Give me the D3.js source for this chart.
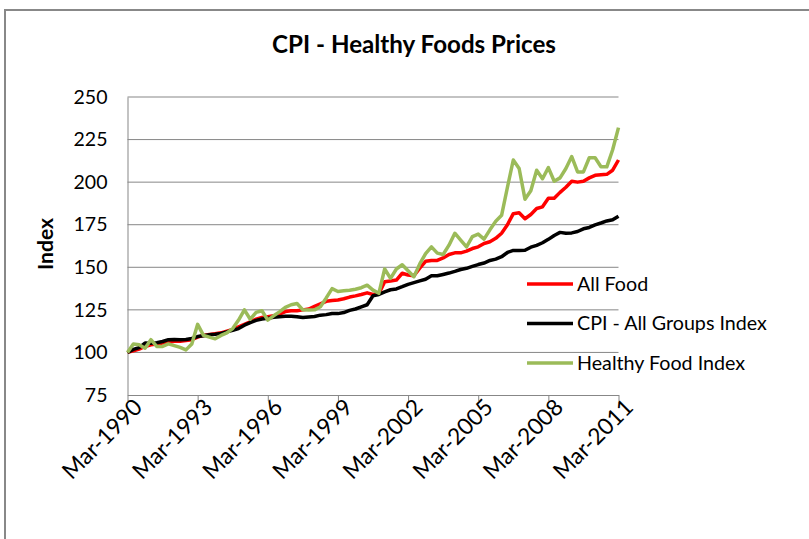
<!DOCTYPE html>
<html>
<head>
<meta charset="utf-8">
<script src="https://cdn.jsdelivr.net/npm/d3@7"></script>
<style>
  body { margin: 0; background: #fff; }
  text { font-family: Lato, 'Open Sans', sans-serif; fill: #000; }
</style>
</head>
<body>
<svg id="chart" width="809" height="539"></svg>
<script>
// quarterly categories, Mar-1990 .. Mar-2011
const months = ['Mar', 'Jun', 'Sep', 'Dec'];
const years = d3.range(1990, 2012);
const quarters = [];
years.forEach(y => months.forEach(m => {
  if (y < 2011 || m === 'Mar') quarters.push(`${m}-${y}`);
}));

const tickLabels = ['Mar-1990', 'Mar-1993', 'Mar-1996', 'Mar-1999', 'Mar-2002', 'Mar-2005', 'Mar-2008', 'Mar-2011'];
const yTicks = [75, 100, 125, 150, 175, 200, 225, 250];

const allFood = [
  100, 101, 102, 103.5, 104.5, 105, 105.5, 106, 106.5, 106.5, 107, 107.5,
  109, 110, 110.5, 111, 111.5, 112.5, 113.5, 115, 116.5, 118, 119.5, 120.5,
  121, 121.5, 122.5, 124, 124.5, 124.5, 125, 125.5, 127, 128.5, 130, 130.5,
  130.8, 131.5, 132.5, 133.2, 134, 135, 134, 134.5, 141.5, 142, 142.5, 146.5,
  145.5, 145, 149.5, 153.5, 154, 154, 155.5, 157.5, 158.5, 158.5, 159.5, 161,
  162, 164, 165, 167, 170, 175, 181.5, 182, 178.5, 181, 184.5, 185.5,
  190.5, 190.5, 194, 197, 200.5, 200, 200.5, 202.5, 204, 204.3, 204.6, 207,
  213
];

const cpiAllGroups = [
  100, 101.8, 102.8, 105.5, 105.4, 105.7, 106.4, 107.5, 107.6, 107.4, 107.6, 108.2,
  109.3, 109.8, 110.4, 110.7, 111.2, 112.1, 113, 114, 116, 117.5, 118.8, 119.6,
  120, 120.7, 121, 121.2, 121.3, 121, 120.5, 120.8, 121.1, 121.9, 122.2, 122.9,
  122.8, 123.4, 124.7, 125.5, 126.8, 128, 133.3, 134, 135.6, 136.8, 137.3, 138.6,
  140, 141, 142, 143, 145, 145, 145.8, 146.6, 147.6, 148.7, 149.4, 150.5,
  151.6, 152.5, 154, 154.8, 156.2, 158.7, 159.9, 159.9, 160, 161.8, 162.9, 164.4,
  166.4, 168.7, 170.5, 170, 170.2, 171, 172.6, 173.4, 174.9, 176, 177.2, 177.9,
  180
];

const healthyFood = [
  100, 105, 104.5, 102.5, 107.5, 103.5, 103.5, 105, 104, 103, 101.5, 105,
  116.5, 110, 109, 108, 110, 111.5, 114, 119, 125, 119.5, 123.5, 124.5,
  119, 121.5, 123.8, 126.5, 128, 128.7, 125, 124.9, 125, 126.8, 132, 137.5,
  135.8, 136.2, 136.5, 137.1, 138, 139.5, 136.6, 134.7, 149, 143.5, 149, 151.5,
  148, 144.5, 152, 158, 162, 158.3, 157.5, 163, 170, 166, 162, 168,
  169.5, 166.5, 172, 177, 180.5, 197, 213, 208, 190, 195, 207, 202,
  208.5, 200.5, 202.5, 208, 215, 206, 206, 214.3, 214.3, 209, 209, 219,
  232
];

const series = [
  { name: 'All Food', values: allFood, color: '#ff0000' },
  { name: 'CPI - All Groups Index', values: cpiAllGroups, color: '#000000' },
  { name: 'Healthy Food Index', values: healthyFood, color: '#9bbb59' }
];

const svg = d3.select('#chart');

// outer chart frame
svg.append('rect')
  .attr('x', 5).attr('y', 10)
  .attr('width', 830).attr('height', 560)
  .attr('fill', '#fff')
  .attr('stroke', '#888')
  .attr('stroke-width', 2);

const x = d3.scalePoint().domain(quarters).range([127.5, 618.5]);
const y = d3.scaleLinear().domain([75, 250]).range([395, 97]);

// scale a text's font size so it fills a given width
function fit(sel, width) {
  const w = sel.node().getComputedTextLength();
  const fs = parseFloat(sel.style('font-size'));
  sel.style('font-size', (fs * width / w) + 'px');
  return fs * width / w;
}

// gridlines
svg.append('g')
  .selectAll('line')
  .data(yTicks.filter(d => d > 75))
  .enter()
  .append('line')
  .attr('x1', x.range()[0]).attr('x2', x.range()[1])
  .attr('y1', d => y(d)).attr('y2', d => y(d))
  .attr('stroke', '#878787')
  .attr('stroke-width', 1);

// y axis
const yAxis = svg.append('g')
  .attr('transform', `translate(${x.range()[0]},0)`)
  .call(d3.axisLeft(y).tickValues(yTicks).tickSize(0).tickPadding(20));
yAxis.select('.domain').attr('stroke', '#878787');
yAxis.selectAll('text').attr('font-family', null).style('font-size', '20px').style('fill', '#000');
// fit on the "250" label
const axisFs = fit(yAxis.selectAll('text').filter(d => d === 250), 34);
yAxis.selectAll('text').style('font-size', axisFs + 'px');

// x axis
const xAxis = svg.append('g')
  .attr('transform', `translate(0,${y(75)})`)
  .call(d3.axisBottom(x).tickValues(tickLabels).tickSize(6).tickSizeOuter(0));
xAxis.select('.domain').attr('stroke', '#878787');
xAxis.selectAll('line').attr('stroke', '#878787');
xAxis.selectAll('text')
  .attr('font-family', null)
  .style('font-size', (axisFs * 1.17) + 'px')
  .style('fill', '#000')
  .attr('text-anchor', 'end')
  .attr('dy', '0.35em')
  .attr('transform', 'translate(10,8) rotate(-45)')
  .attr('x', 0).attr('y', 0);

// lines
const line = d3.line()
  .x((d, i) => x(quarters[i]))
  .y(d => y(d));

svg.append('g')
  .selectAll('path')
  .data(series)
  .enter()
  .append('path')
  .attr('d', d => line(d.values))
  .attr('fill', 'none')
  .attr('stroke', d => d.color)
  .attr('stroke-width', 3.5)
  .attr('stroke-linejoin', 'round');

// title
const title = svg.append('text')
  .attr('x', 414).attr('y', 53)
  .attr('text-anchor', 'middle')
  .style('font-weight', 'bold')
  .style('font-size', '24px')
  .text('CPI - Healthy Foods Prices');
fit(title, 284);

// y axis title
const yTitle = svg.append('text')
  .attr('transform', 'translate(53,244) rotate(-90)')
  .attr('text-anchor', 'middle')
  .style('font-weight', 'bold')
  .style('font-size', '20px')
  .text('Index');
fit(yTitle, 52);

// legend
const legendY = [284, 323.5, 363];
const legend = svg.append('g')
  .selectAll('g')
  .data(series)
  .enter()
  .append('g')
  .attr('transform', (d, i) => `translate(527,${legendY[i]})`);

legend.append('line')
  .attr('x1', 0).attr('x2', 46)
  .attr('stroke', d => d.color)
  .attr('stroke-width', 3.5);

legend.append('text')
  .attr('x', 50)
  .attr('dy', '0.35em')
  .style('font-size', '20px')
  .text(d => d.name);
const legFs = fit(legend.filter((d, i) => i === 1).select('text'), 190);
legend.selectAll('text').style('font-size', legFs + 'px');
</script>
</body>
</html>
